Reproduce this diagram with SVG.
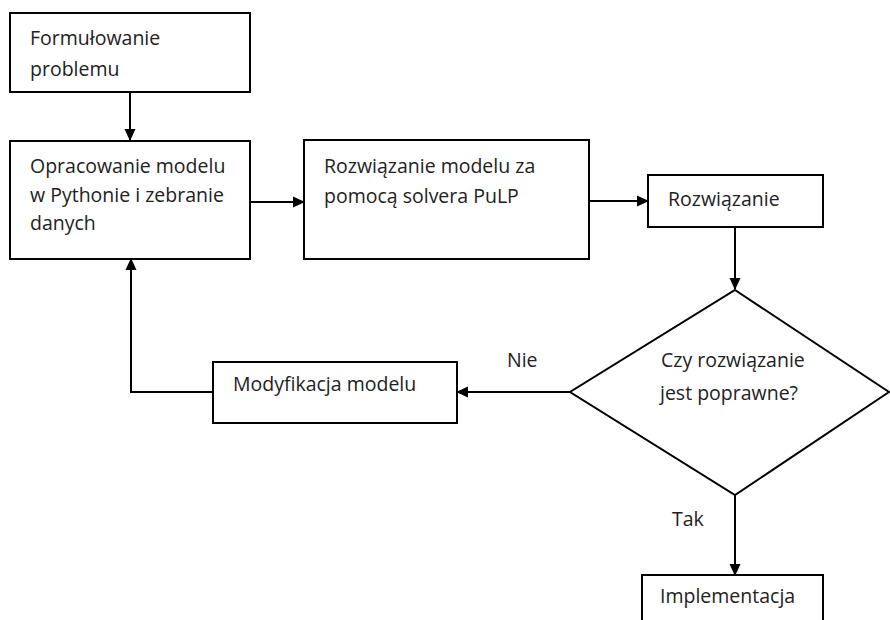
<svg xmlns="http://www.w3.org/2000/svg" width="890" height="620" viewBox="0 0 890 620">
<style>
.box{fill:#fff;stroke:#000;stroke-width:2}
.t{font-family:"Open Sans","Noto Sans","DejaVu Sans",sans-serif;font-size:19.5px;fill:#222}
.c{fill:none;stroke:#000;stroke-width:2}
</style>
<defs>
<marker id="ah" markerWidth="12" markerHeight="12" refX="11" refY="6" orient="auto" markerUnits="userSpaceOnUse" viewBox="0 0 12 12">
<path d="M0,0.5 L12,6 L0,11.5 z" fill="#000"/>
</marker>
</defs>
<rect width="890" height="620" fill="#fff"/>
<g id="connectors">
<line class="c" x1="130" y1="92" x2="130" y2="140" marker-end="url(#ah)"/>
<line class="c" x1="250" y1="202" x2="304" y2="202" marker-end="url(#ah)"/>
<line class="c" x1="589" y1="201" x2="648" y2="201" marker-end="url(#ah)"/>
<line class="c" x1="735" y1="227" x2="735" y2="289" marker-end="url(#ah)"/>
<line class="c" x1="570" y1="392" x2="457" y2="392" marker-end="url(#ah)"/>
<polyline class="c" points="213,392 131,392 131,259" marker-end="url(#ah)"/>
<line class="c" x1="735" y1="495" x2="735" y2="575" marker-end="url(#ah)"/>
<text class="t" x="507" y="367">Nie</text>
<text class="t" x="672" y="526">Tak</text>
</g>
<g id="n1">
<rect class="box" x="10" y="13" width="240" height="79"/>
<text class="t" x="30" y="45">Formułowanie</text>
<text class="t" x="30" y="76">problemu</text>
</g>
<g id="n2">
<rect class="box" x="10" y="141" width="240" height="118"/>
<text class="t" x="30" y="173">Opracowanie modelu</text>
<text class="t" x="30" y="202">w Pythonie i zebranie</text>
<text class="t" x="30" y="230">danych</text>
</g>
<g id="n3">
<rect class="box" x="304" y="140" width="285" height="119"/>
<text class="t" x="324" y="173">Rozwiązanie modelu za</text>
<text class="t" x="324" y="203">pomocą solvera PuLP</text>
</g>
<g id="n4">
<rect class="box" x="648" y="175" width="175" height="52"/>
<text class="t" x="668" y="206">Rozwiązanie</text>
</g>
<g id="n5">
<polygon class="box" points="735,290 889,392 735,495 570,392"/>
<text class="t" x="661" y="367">Czy rozwiązanie</text>
<text class="t" x="660" y="400">jest poprawne?</text>
</g>
<g id="n6">
<rect class="box" x="213" y="362" width="244" height="61"/>
<text class="t" x="233" y="391">Modyfikacja modelu</text>
</g>
<g id="n7">
<rect class="box" x="642" y="575" width="181" height="60"/>
<text class="t" x="660" y="603">Implementacja</text>
</g>
</svg>
